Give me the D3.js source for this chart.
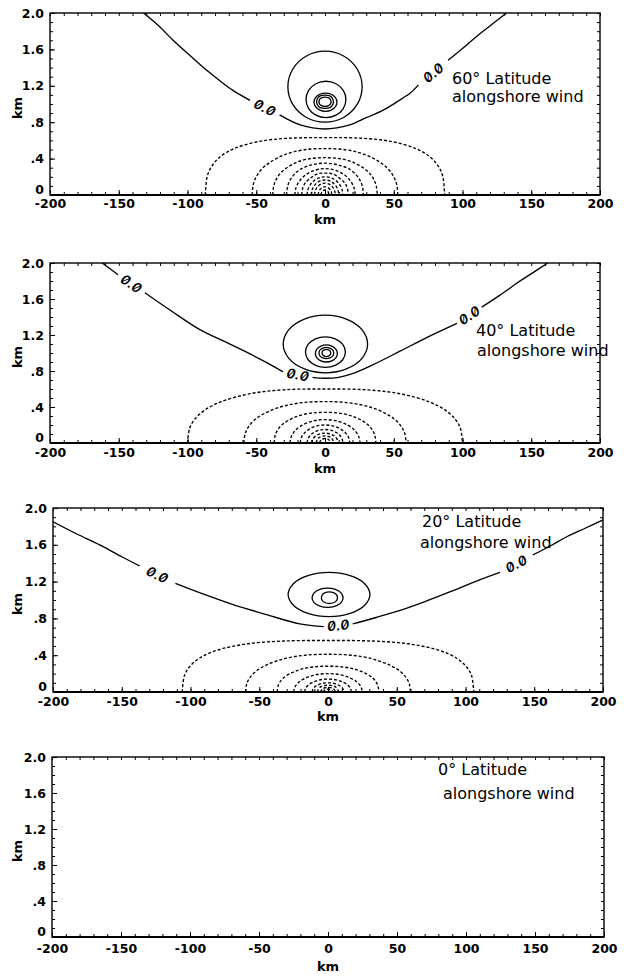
<!DOCTYPE html>
<html><head><meta charset="utf-8">
<script src="https://cdn.jsdelivr.net/npm/d3@7"></script>
<style>
body{margin:0;background:#fff}
text{fill:#000}
.tick text{font-family:"DejaVu Sans",sans-serif;font-weight:bold;font-size:12.5px}
</style>
</head><body><svg id="c" width="624" height="976"></svg>
<script>
// ---------------- data ----------------
const xTicks = [-200,-150,-100,-50,0,50,100,150,200];
const yTicks = [0,0.4,0.8,1.2,1.6,2.0];
const yTickLabels = ["0",".4",".8","1.2","1.6","2.0"];
const axisLabel = "km";
const zeroLabel = "0.0";
const titles = [
  ["60° Latitude","alongshore wind"],
  ["40° Latitude","alongshore wind"],
  ["20° Latitude","alongshore wind"],
  ["0° Latitude","alongshore wind"]
];

// zero contour, split where the "0.0" labels sit  [km, km]
const lat60Zero = [
  [[-132,2.0],[-121,1.86],[-110.5,1.70],[-98,1.53],[-86,1.37],[-76,1.25],[-67,1.15],[-54.5,1.04]],
  [[-33,0.88],[-18,0.77],[0,0.725],[18,0.77],[30,0.85],[42,0.93],[52,1.02],[62,1.12],[68,1.21]],
  [[89.5,1.48],[100,1.61],[110,1.74],[121,1.87],[132,2.0]]
];
const lat40Zero = [
  [[-162,2.0],[-150.5,1.87]],
  [[-131,1.67],[-112,1.47],[-91,1.26],[-72,1.12],[-54.5,0.99],[-42,0.89],[-30.5,0.79]],
  [[-9,0.73],[0,0.72],[10,0.73],[20,0.77],[35,0.87],[54.5,1.02],[75,1.18],[96,1.33]],
  [[114,1.51],[127,1.64],[140,1.78],[151,1.89],[162,2.0]]
];
const lat20Zero = [
  [[-200,1.85],[-183,1.72],[-166,1.6],[-150,1.47],[-137,1.37]],
  [[-111,1.18],[-90,1.06],[-69,0.95],[-44.5,0.84],[-20.5,0.74],[-3,0.71]],
  [[18,0.74],[35,0.81],[53,0.89],[70,0.98],[89,1.09],[107,1.2],[125,1.3]],
  [[149,1.49],[162,1.59],[174,1.69],[187,1.78],[200,1.87]]
];
const lat0Zero = [];

// positive (solid, closed) contours
const lat60Pos = [
  [[27,1.19],[23.4,1.385],[13.5,1.528],[0,1.58],[-13.5,1.528],[-23.4,1.385],[-27,1.19],[-23.4,0.995],[-13.5,0.852],[0,0.80],[13.5,0.852],[23.4,0.995]],
  [[15.2,1.05],[13.3,1.15],[8,1.223],[0.7,1.25],[-6.6,1.223],[-11.9,1.15],[-13.8,1.05],[-11.9,0.95],[-6.6,0.877],[0.7,0.85],[8,0.877],[13.3,0.95]],
  [[8.7,1.02],[7.6,1.07],[4.5,1.107],[0.35,1.12],[-3.8,1.107],[-6.9,1.07],[-8,1.02],[-6.9,0.97],[-3.8,0.933],[0.35,0.92],[4.5,0.933],[7.6,0.97]],
  [[5.8,1.0],[5.8,1.05],[3.5,1.09],[-3.5,1.09],[-5.8,1.05],[-5.8,1.0],[-3.5,0.96],[3.5,0.96]],
  [[4,1.0],[4,1.05],[2.2,1.07],[-2.2,1.07],[-4,1.05],[-4,1.0],[-2.2,0.98],[2.2,0.98]]
];
const lat40Pos = [
  [[31,1.10],[26.9,1.26],[15.6,1.377],[0.3,1.42],[-15,1.377],[-26.3,1.26],[-30.4,1.10],[-26.3,0.94],[-15,0.823],[0.3,0.78],[15.6,0.823],[26.9,0.94]],
  [[14.8,1.01],[12.9,1.095],[7.5,1.157],[0.3,1.18],[-6.9,1.157],[-12.3,1.095],[-14.2,1.01],[-12.3,0.925],[-6.9,0.863],[0.3,0.84],[7.5,0.863],[12.9,0.925]],
  [[9,0.995],[7.9,1.043],[5,1.077],[1,1.09],[-3,1.077],[-5.9,1.043],[-7,0.995],[-5.9,0.947],[-3,0.913],[1,0.9],[5,0.913],[7.9,0.947]],
  [[6,0.975],[6,1.025],[3.5,1.055],[-1.5,1.055],[-4,1.025],[-4,0.975],[-1.5,0.945],[3.5,0.945]],
  [[4,0.985],[4,1.015],[2.5,1.035],[-0.5,1.035],[-2,1.015],[-2,0.985],[-0.5,0.965],[2.5,0.965]]
];
const lat20Pos = [
  [[30.5,1.06],[26.5,1.18],[15.6,1.268],[0.75,1.30],[-14.1,1.268],[-25,1.18],[-29,1.06],[-25,0.94],[-14.1,0.852],[0.75,0.82],[15.6,0.852],[26.5,0.94]],
  [[11,1.025],[9.5,1.078],[5.35,1.116],[-0.3,1.13],[-5.95,1.116],[-10.1,1.078],[-11.6,1.025],[-10.1,0.972],[-5.95,0.934],[-0.3,0.92],[5.35,0.934],[9.5,0.972]],
  [[6.5,1.0],[6.5,1.05],[4,1.08],[-2,1.08],[-4.4,1.05],[-4.4,1.0],[-2,0.97],[4,0.97]]
];
const lat0Pos = [];

// negative (dashed) contours, open arcs resting on the bottom
const lat60Neg = [
  [[-87,0],[-85.7,0.202],[-82.65,0.309],[-76.56,0.416],[-66.12,0.51],[-47.85,0.589],[-26.1,0.624],[0,0.63],[26.1,0.624],[47.85,0.589],[66.12,0.51],[76.56,0.416],[82.65,0.309],[85.7,0.202],[87,0]],
  [[-53,0],[-52.2,0.112],[-50.35,0.189],[-46.64,0.275],[-40.28,0.357],[-29.15,0.444],[-15.9,0.495],[0,0.51],[15.9,0.495],[29.15,0.444],[40.28,0.357],[46.64,0.275],[50.35,0.189],[52.2,0.112],[53,0]],
  [[-38,0],[-37.4,0.09],[-36.1,0.152],[-33.44,0.221],[-28.88,0.287],[-20.9,0.357],[-11.4,0.398],[0,0.41],[11.4,0.398],[20.9,0.357],[28.88,0.287],[33.44,0.221],[36.1,0.152],[37.4,0.09],[38,0]],
  [[-28,0],[-26.9,0.11],[-23.8,0.20],[-18.2,0.28],[-9.8,0.33],[0,0.35],[9.8,0.33],[18.2,0.28],[23.8,0.20],[26.9,0.11],[28,0]],
  [[-22,0],[-21.1,0.08],[-18.7,0.15],[-14.3,0.22],[-7.7,0.27],[0,0.29],[7.7,0.27],[14.3,0.22],[18.7,0.15],[21.1,0.08],[22,0]],
  [[-17,0],[-16.3,0.07],[-14.5,0.13],[-11,0.18],[-6,0.23],[0,0.24],[6,0.23],[11,0.18],[14.5,0.13],[16.3,0.07],[17,0]],
  [[-13,0],[-12.5,0.056],[-11,0.106],[-8.5,0.152],[-4.5,0.188],[0,0.20],[4.5,0.188],[8.5,0.152],[11,0.106],[12.5,0.056],[13,0]],
  [[-10,0],[-9.6,0.046],[-8.5,0.087],[-6.5,0.125],[-3.5,0.155],[0,0.165],[3.5,0.155],[6.5,0.125],[8.5,0.087],[9.6,0.046],[10,0]],
  [[-7.5,0],[-7.2,0.036],[-6.4,0.069],[-4.9,0.099],[-2.6,0.122],[0,0.13],[2.6,0.122],[4.9,0.099],[6.4,0.069],[7.2,0.036],[7.5,0]],
  [[-5,0],[-4.25,0.048],[-1.75,0.085],[0,0.09],[1.75,0.085],[4.25,0.048],[5,0]],
  [[-3,0],[-2.1,0.039],[0,0.055],[2.1,0.039],[3,0]]
];
const lat40Neg = [
  [[-100,0],[-98.5,0.162],[-95,0.258],[-88,0.36],[-76,0.456],[-55,0.546],[-30,0.591],[0,0.60],[30,0.591],[55,0.546],[76,0.456],[88,0.36],[95,0.258],[98.5,0.162],[100,0]],
  [[-59,0],[-58.1,0.101],[-56.05,0.17],[-51.92,0.248],[-44.84,0.322],[-32.45,0.40],[-17.7,0.446],[0,0.46],[17.7,0.446],[32.45,0.40],[44.84,0.322],[51.92,0.248],[56.05,0.17],[58.1,0.101],[59,0]],
  [[-37,0],[-36.4,0.075],[-35.15,0.126],[-32.56,0.184],[-28.12,0.238],[-20.35,0.296],[-11.1,0.33],[0,0.34],[11.1,0.33],[20.35,0.296],[28.12,0.238],[32.56,0.184],[35.15,0.126],[36.4,0.075],[37,0]],
  [[-25.5,0],[-24.5,0.073],[-21.7,0.138],[-16.6,0.198],[-8.9,0.244],[0,0.26],[8.9,0.244],[16.6,0.198],[21.7,0.138],[24.5,0.073],[25.5,0]],
  [[-18,0],[-17.3,0.056],[-15.3,0.106],[-11.7,0.152],[-6.3,0.188],[0,0.20],[6.3,0.188],[11.7,0.152],[15.3,0.106],[17.3,0.056],[18,0]],
  [[-13,0],[-12.5,0.042],[-11,0.08],[-8.5,0.114],[-4.5,0.141],[0,0.15],[4.5,0.141],[8.5,0.114],[11,0.08],[12.5,0.042],[13,0]],
  [[-9.5,0],[-9.1,0.031],[-8.1,0.058],[-6.2,0.084],[-3.3,0.103],[0,0.11],[3.3,0.103],[6.2,0.084],[8.1,0.058],[9.1,0.031],[9.5,0]],
  [[-6.5,0],[-4.6,0.057],[0,0.08],[4.6,0.057],[6.5,0]],
  [[-4,0],[-2.8,0.035],[0,0.05],[2.8,0.035],[4,0]]
];
const lat20Neg = [
  [[-106,0],[-104.4,0.179],[-100.7,0.274],[-93.28,0.37],[-80.56,0.454],[-58.3,0.524],[-31.8,0.554],[0,0.56],[31.8,0.554],[58.3,0.524],[80.56,0.454],[93.28,0.37],[100.7,0.274],[104.4,0.179],[106,0]],
  [[-60,0],[-59.1,0.09],[-57,0.152],[-52.8,0.221],[-45.6,0.287],[-33,0.357],[-18,0.398],[0,0.41],[18,0.398],[33,0.357],[45.6,0.287],[52.8,0.221],[57,0.152],[59.1,0.09],[60,0]],
  [[-37,0],[-36.4,0.062],[-35.15,0.104],[-32.56,0.151],[-28.12,0.196],[-20.35,0.244],[-11.1,0.272],[0,0.28],[11.1,0.272],[20.35,0.244],[28.12,0.196],[32.56,0.151],[35.15,0.104],[36.4,0.062],[37,0]],
  [[-25,0],[-24,0.056],[-21.3,0.106],[-16.3,0.152],[-8.8,0.188],[0,0.20],[8.8,0.188],[16.3,0.152],[21.3,0.106],[24,0.056],[25,0]],
  [[-17,0],[-16.3,0.039],[-14.5,0.074],[-11,0.106],[-6,0.132],[0,0.14],[6,0.132],[11,0.106],[14.5,0.074],[16.3,0.039],[17,0]],
  [[-11.6,0],[-11.1,0.028],[-9.9,0.053],[-7.5,0.076],[-4.1,0.094],[0,0.10],[4.1,0.094],[7.5,0.076],[9.9,0.053],[11.1,0.028],[11.6,0]],
  [[-8,0],[-5.7,0.053],[0,0.075],[5.7,0.053],[8,0]],
  [[-5.5,0],[-3.9,0.035],[0,0.05],[3.9,0.035],[5.5,0]],
  [[-3.5,0],[-2.5,0.021],[0,0.03],[2.5,0.021],[3.5,0]]
];
const lat0Neg = [];

// ---------------- layout ----------------
const layout = [
  {L:50,R:600,T:13,B:195,kmY:219,pad:4,tx:[452,452],ty:[84,102]},
  {L:50,R:600,T:263,B:443,kmY:468,pad:5,tx:[476,477],ty:[336,356]},
  {L:53,R:603,T:508,B:692,kmY:716,pad:5,tx:[422,420],ty:[527,548]},
  {L:52,R:604,T:757,B:937,kmY:966,pad:7,tx:[438,443],ty:[775,799]}
];
const panels = [
  {zero:lat60Zero,pos:lat60Pos,neg:lat60Neg},
  {zero:lat40Zero,pos:lat40Pos,neg:lat40Neg},
  {zero:lat20Zero,pos:lat20Pos,neg:lat20Neg},
  {zero:lat0Zero,pos:lat0Pos,neg:lat0Neg}
];

const svg = d3.select("#c");
const minorX = d3.range(-200,201,10);
const minorY = d3.range(0,21,1).map(v=>v/10);

panels.forEach((p,i)=>{
  const L = layout[i];
  const x = d3.scaleLinear().domain([-200,200]).range([L.L,L.R]);
  const y = d3.scaleLinear().domain([0,2]).range([L.B,L.T]);
  const g = svg.append("g");
  const clipId = "clip"+i;
  g.append("clipPath").attr("id",clipId).append("rect")
    .attr("x",L.L).attr("y",L.T).attr("width",L.R-L.L).attr("height",L.B-L.T);
  const cg = g.append("g").attr("clip-path",`url(#${clipId})`);

  const open = d3.line().x(d=>x(d[0])).y(d=>y(d[1])).curve(d3.curveCatmullRom.alpha(0.5));
  const closed = d3.line().x(d=>x(d[0])).y(d=>y(d[1])).curve(d3.curveCatmullRomClosed.alpha(0.5));

  cg.selectAll(".neg").data(p.neg).join("path").attr("class","neg")
    .attr("d",open).attr("fill","none").attr("stroke","#000")
    .attr("stroke-width",1.35).attr("stroke-dasharray","3,2");
  cg.selectAll(".pos").data(p.pos).join("path").attr("class","pos")
    .attr("d",closed).attr("fill","none").attr("stroke","#000").attr("stroke-width",1.3);
  cg.selectAll(".zero").data(p.zero).join("path").attr("class","zero")
    .attr("d",open).attr("fill","none").attr("stroke","#000").attr("stroke-width",1.35);

  // labels in the gaps of the zero contour
  for(let k=0;k<p.zero.length-1;k++){
    const a = p.zero[k][p.zero[k].length-1], b = p.zero[k+1][0];
    const ax=x(a[0]), ay=y(a[1]), bx=x(b[0]), by=y(b[1]);
    const ang = Math.atan2(by-ay,bx-ax)*180/Math.PI;
    g.append("text").text(zeroLabel)
      .attr("transform",`translate(${(ax+bx)/2},${(ay+by)/2}) rotate(${ang})`)
      .attr("text-anchor","middle").attr("dominant-baseline","central")
      .style("font-family","Inter, 'DejaVu Sans', sans-serif")
      .style("font-style","italic").style("font-weight","600").style("font-size","13.5px")
      .style("letter-spacing","0.5px")
      .style("font-variant-numeric","slashed-zero").style("font-feature-settings","'zero' 1");
  }

  // minor ticks (inward) on all sides
  const noDom = s=>s.select(".domain").remove();
  g.append("g").attr("transform",`translate(0,${L.B})`).call(d3.axisBottom(x).tickValues(minorX).tickSize(-3).tickFormat("")).call(noDom);
  g.append("g").attr("transform",`translate(0,${L.T})`).call(d3.axisTop(x).tickValues(minorX).tickSize(-3).tickFormat("")).call(noDom);
  g.append("g").attr("transform",`translate(${L.L},0)`).call(d3.axisLeft(y).tickValues(minorY).tickSize(-3).tickFormat("")).call(noDom);
  g.append("g").attr("transform",`translate(${L.R},0)`).call(d3.axisRight(y).tickValues(minorY).tickSize(-3).tickFormat("")).call(noDom);
  // major ticks with labels
  g.append("g").attr("transform",`translate(0,${L.B})`)
    .call(d3.axisBottom(x).tickValues(xTicks).tickSize(-5).tickPadding(L.pad).tickFormat(d=>String(d))).call(noDom);
  const ya = g.append("g").attr("transform",`translate(${L.L},0)`)
    .call(d3.axisLeft(y).tickValues(yTicks).tickSize(-5).tickPadding(6).tickFormat((d,j)=>yTickLabels[j])).call(noDom);
  ya.selectAll(".tick").filter(d=>d===0).select("text").attr("dy","-0.12em");
  g.selectAll(".tick line").attr("stroke","#000");

  // frame
  g.append("rect").attr("x",L.L).attr("y",L.T).attr("width",L.R-L.L).attr("height",L.B-L.T)
    .attr("fill","none").attr("stroke","#000").attr("stroke-width",1.4);
  g.append("line").attr("x1",L.L).attr("x2",L.R).attr("y1",L.B).attr("y2",L.B)
    .attr("stroke","#000").attr("stroke-width",2);

  // axis titles
  g.append("text").text(axisLabel).attr("x",(L.L+L.R)/2).attr("y",L.kmY)
    .attr("text-anchor","middle").attr("dominant-baseline","central")
    .style("font-family","'DejaVu Sans',sans-serif").style("font-weight","bold").style("font-size","13px");
  g.append("text").text(axisLabel)
    .attr("transform",`translate(17,${(L.T+L.B)/2+4}) rotate(-90)`)
    .attr("text-anchor","middle").attr("dominant-baseline","central")
    .style("font-family","'DejaVu Sans',sans-serif").style("font-weight","bold").style("font-size","13px");

  // panel title
  titles[i].forEach((t,j)=>{
    g.append("text").text(t).attr("x",L.tx[j]).attr("y",L.ty[j])
      .style("font-family","'DejaVu Sans',sans-serif").style("font-size","16px");
  });
});
</script>
</body></html>
